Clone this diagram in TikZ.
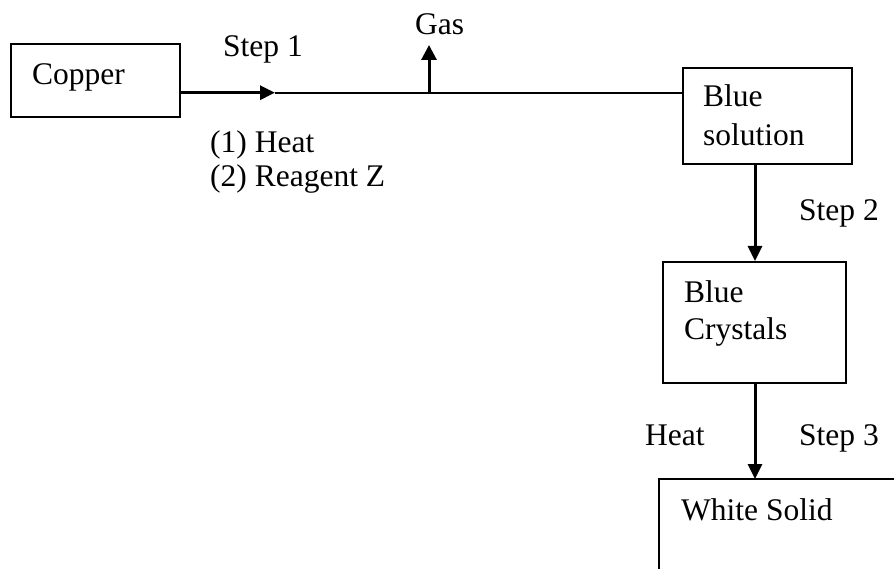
\documentclass[tikz,border=0pt]{standalone}
\usepackage{fontspec}
\setmainfont{Liberation Serif}
\usetikzlibrary{arrows.meta}
\begin{document}
\begin{tikzpicture}[x=1pt,y=-1pt,
  box/.style={draw,line width=2pt,rectangle,inner sep=0pt},
  lbl/.style={anchor=base west,inner sep=0pt,font=\fontsize{31.5}{36}\selectfont},
  arr/.style={line width=3pt,-{Triangle[length=15pt,width=14pt]}},
  thinline/.style={line width=2pt}]
\clip (0,0) rectangle (894,569);
\fill[white] (0,0) rectangle (894,569);
% boxes
\node[box,minimum width=169pt,minimum height=73pt] (copper) at (95.5,80.5) {};
\node[box,minimum width=169pt,minimum height=96pt] (bsol) at (767.5,116) {};
\node[box,minimum width=183pt,minimum height=121pt] (bcry) at (754.5,322.5) {};
\draw[box] (659,479) rectangle (960,640);
\coordinate (wsol) at (755,479);
% texts
\node[lbl] (tcopper) at (32,85) {Copper};
\node[lbl] (tstep1) at (223,57) {Step 1};
\node[lbl] (theat1) at (210,153) {(1) Heat};
\node[lbl] (treag) at (210,187) {(2) Reagent Z};
\node[lbl] (tgas) at (415,35) {Gas};
\node[lbl] (tbs1) at (703,107) {Blue};
\node[lbl] (tbs2) at (703,146) {solution};
\node[lbl] (tstep2) at (799,221) {Step 2};
\node[lbl] (tbc1) at (684,302) {Blue};
\node[lbl] (tbc2) at (684,339) {Crystals};
\node[lbl] (theat2) at (645,445) {Heat};
\node[lbl] (tstep3) at (799,445) {Step 3};
\node[lbl] (tws) at (681,520) {White Solid};
% connectors
\coordinate (tip) at (275,92.7);
\coordinate (gasj) at (429,92.7);
\coordinate (gastip) at (429,45);
\draw[arr] (tip -| copper.east) -- (tip);
\draw[thinline] (tip) -- (tip -| bsol.west);
\draw[arr,-{Triangle[length=15pt,width=15pt]}] (gasj) -- (gastip);
\draw[arr] (755,164) coordinate (b1) -- (b1 |- bcry.north);
\draw[arr] (755,384) coordinate (b2) -- (wsol);
\end{tikzpicture}
\end{document}
